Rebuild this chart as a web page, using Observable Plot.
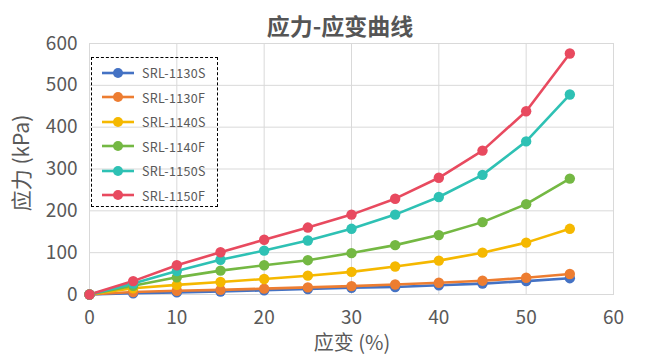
<!DOCTYPE html>
<html><head><meta charset="utf-8">
<script src="https://cdn.jsdelivr.net/npm/d3@7"></script>
<script src="https://cdn.jsdelivr.net/npm/@observablehq/plot@0.6"></script>
<style>
body{margin:0;background:#fff;font-family:"Noto Sans CJK SC","Noto Sans",sans-serif;}
#wrap{position:relative;width:648px;height:362px;}
#title{position:absolute;left:16px;width:648px;top:8px;text-align:center;font-size:23px;font-weight:bold;color:#555;}
#legend{position:absolute;left:91px;top:57px;width:125px;height:148px;border:1px dashed #000;font-size:12.5px;color:#595959;}
.item{position:absolute;left:8px;display:flex;align-items:center;}
.item span{margin-left:6px;letter-spacing:0.3px;}
#xlab{position:absolute;left:252px;width:200px;top:329px;text-align:center;font-size:20px;color:#595959;line-height:26px;}
#ylab{position:absolute;left:-80px;top:150px;width:200px;text-align:center;font-size:21px;color:#595959;line-height:26px;transform:rotate(-90deg);}
</style></head><body>
<div id="wrap"><div id="title">应力-应变曲线</div><div id="legend"></div><div id="xlab">应变 (%)</div><div id="ylab">应力 (kPa)</div></div>
<script>
const strain = [0,5,10,15,20,25,30,35,40,45,50,55];
const seriesNames = ["SRL-1130S","SRL-1130F","SRL-1140S","SRL-1140F","SRL-1150S","SRL-1150F"];
const colors = ["#4472C4","#ED7D31","#F5B800","#74B843","#2EC1B4","#E84A5F"];
const s1130S = [0,3,5,7,10,13,16,18,22,26,32,39];
const s1130F = [0,6,9,11,14,17,20,24,28,33,40,49];
const s1140S = [0,15,23,30,37,45,54,67,81,100,124,157];
const s1140F = [0,21,41,57,70,82,99,118,142,173,216,277];
const s1150S = [0,26,56,83,105,129,157,191,233,286,366,478];
const s1150F = [0,32,70,101,131,160,191,229,279,344,438,576];
const yTicks = [0,100,200,300,400,500,600];
const xTicks = [0,10,20,30,40,50,60];

const all = [s1130S,s1130F,s1140S,s1140F,s1150S,s1150F];
const data = [];
all.forEach((arr,i)=>arr.forEach((v,j)=>data.push({name:seriesNames[i],x:strain[j],y:v})));

const chart = Plot.plot({
  width:648,height:362,
  marginLeft:89,marginRight:35,marginTop:43,marginBottom:68,
  style:{fontFamily:'"Noto Sans CJK SC","Noto Sans",sans-serif',fontSize:"19px",color:"#595959",background:"#fff"},
  x:{domain:[0,60],ticks:xTicks},
  y:{domain:[0,600],ticks:yTicks},
  color:{domain:seriesNames,range:colors},
  marks:[
    Plot.gridX(xTicks,{stroke:"#d9d9d9",strokeOpacity:1}),
    Plot.gridY(yTicks,{stroke:"#d9d9d9",strokeOpacity:1}),
    Plot.frame({stroke:"#d9d9d9"}),
    Plot.axisX({ticks:xTicks,tickSize:0,tickPadding:16,label:null,fontSize:19}),
    Plot.axisY({ticks:yTicks,tickSize:0,tickPadding:12,label:null,fontSize:19}),
    Plot.line(data,{x:"x",y:"y",z:"name",stroke:"name",strokeWidth:2.6}),
    Plot.dot(data,{x:"x",y:"y",fill:"name",r:5.2})
  ]
});
document.getElementById("wrap").prepend(chart);
chart.style.position="absolute";chart.style.left="0";chart.style.top="0";
const leg = document.getElementById("legend");
seriesNames.forEach((n,i)=>{
  const d=document.createElement("div");d.className="item";d.style.top=(5+i*24.5)+"px";
  d.innerHTML=`<svg width="36" height="12"><line x1="2" x2="34" y1="6" y2="6" stroke="${colors[i]}" stroke-width="2.6"/><circle cx="18" cy="6" r="5" fill="${colors[i]}"/></svg><span>${n}</span>`;
  leg.appendChild(d);
});
</script></body></html>
